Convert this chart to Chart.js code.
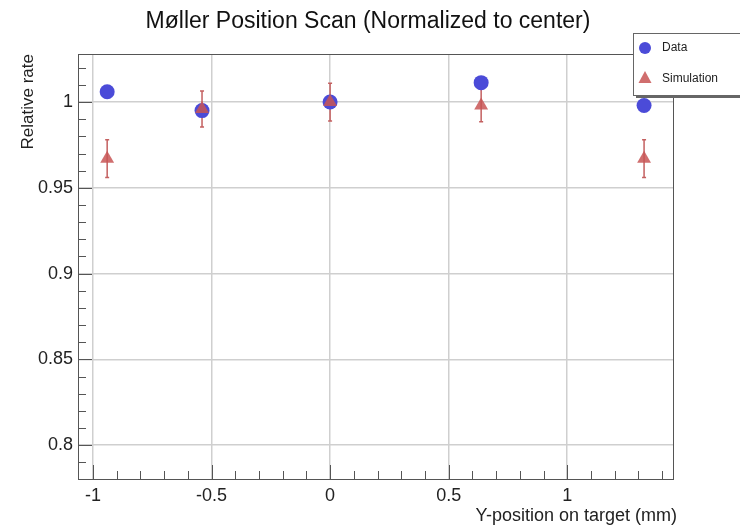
<!DOCTYPE html>
<html>
<head>
<meta charset="utf-8">
<title>Møller Position Scan</title>
<script src="https://cdn.jsdelivr.net/npm/chart.js@4"></script>
<style>
  html, body { margin: 0; padding: 0; background: #fff; }
  canvas { display: block; }
</style>
</head>
<body>
<canvas id="scanChart" width="740" height="525"></canvas>
<script>
// target positions (mm) and rates normalized to the center run
const positions = [-0.94, -0.54, 0.0, 0.637, 1.324];
const dataRate = [1.006, 0.995, 1.0, 1.0113, 0.998];
const simRate = [0.967, 0.996, 1.0, 0.998, 0.967];
const simError = [0.011, 0.0105, 0.011, 0.0095, 0.011];

const xTicks = [-1, -0.5, 0, 0.5, 1];
const yTicks = [0.8, 0.85, 0.9, 0.95, 1];

const FONT = '"Liberation Sans", Arial, Helvetica, sans-serif';
const BLUE = '#4b4bd8';
const RED = 'rgba(200, 85, 85, 0.85)';
const RED_BAR = '#c46060';

function toPoints(ys) {
    return positions.map((x, i) => ({ x: x, y: ys[i] }));
}

// error bars, frame, inward ticks, titles and the legend box
const rootStyle = {
    id: 'rootStyle',
    beforeDatasetsDraw(chart) {
        const ctx = chart.ctx;
        const xs = chart.scales.x;
        const ys = chart.scales.y;
        ctx.save();
        ctx.strokeStyle = RED_BAR;
        ctx.lineWidth = 1.5;
        positions.forEach((x, i) => {
            const px = xs.getPixelForValue(x);
            const top = ys.getPixelForValue(simRate[i] + simError[i]);
            const bot = ys.getPixelForValue(simRate[i] - simError[i]);
            ctx.beginPath();
            ctx.moveTo(px, top);
            ctx.lineTo(px, bot);
            ctx.moveTo(px - 2, top);
            ctx.lineTo(px + 2, top);
            ctx.moveTo(px - 2, bot);
            ctx.lineTo(px + 2, bot);
            ctx.stroke();
        });
        ctx.restore();
    },
    afterDraw(chart) {
        const ctx = chart.ctx;
        const a = chart.chartArea;
        const xs = chart.scales.x;
        const ys = chart.scales.y;
        ctx.save();

        // frame
        ctx.strokeStyle = '#555';
        ctx.lineWidth = 1;
        ctx.strokeRect(Math.round(a.left) + 0.5, Math.round(a.top) + 0.5,
            Math.round(a.right - a.left), Math.round(a.bottom - a.top));

        // ticks pointing into the plot
        ctx.beginPath();
        for (let k = -10; k <= 14; k++) {
            const px = Math.round(xs.getPixelForValue(k / 10)) + 0.5;
            const len = (k % 5 === 0) ? 14 : 8;
            ctx.moveTo(px, a.bottom);
            ctx.lineTo(px, a.bottom - len);
        }
        for (let k = 79; k <= 102; k++) {
            const py = Math.round(ys.getPixelForValue(k / 100)) + 0.5;
            const len = (k % 5 === 0) ? 14 : 8;
            ctx.moveTo(a.left, py);
            ctx.lineTo(a.left + len, py);
        }
        ctx.stroke();

        // titles
        ctx.fillStyle = '#111';
        ctx.font = '23px ' + FONT;
        ctx.textAlign = 'center';
        ctx.textBaseline = 'alphabetic';
        ctx.fillText('Møller Position Scan (Normalized to center)', 368, 28);

        ctx.fillStyle = '#222';
        ctx.font = '18px ' + FONT;
        ctx.textAlign = 'right';
        ctx.fillText('Y-position on target (mm)', 677, 521);

        ctx.save();
        ctx.translate(33, 54);
        ctx.rotate(-Math.PI / 2);
        ctx.font = '17px ' + FONT;
        ctx.textAlign = 'right';
        ctx.fillText('Relative rate', 0, 0);
        ctx.restore();

        // legend box with shadow
        ctx.fillStyle = '#666';
        ctx.fillRect(636, 95, 110, 3);
        ctx.fillStyle = '#fff';
        ctx.fillRect(633, 33, 110, 63);
        ctx.strokeStyle = '#666';
        ctx.lineWidth = 1;
        ctx.strokeRect(633.5, 33.5, 110, 62);

        ctx.fillStyle = BLUE;
        ctx.beginPath();
        ctx.arc(645, 48, 6, 0, Math.PI * 2);
        ctx.fill();

        ctx.fillStyle = RED;
        ctx.beginPath();
        ctx.moveTo(645, 71);
        ctx.lineTo(651.5, 83);
        ctx.lineTo(638.5, 83);
        ctx.closePath();
        ctx.fill();

        ctx.fillStyle = '#222';
        ctx.font = '12px ' + FONT;
        ctx.textAlign = 'left';
        ctx.textBaseline = 'middle';
        ctx.fillText('Data', 662, 48);
        ctx.fillText('Simulation', 662, 79);

        ctx.restore();
    }
};

new Chart(document.getElementById('scanChart'), {
    type: 'scatter',
    data: {
        datasets: [
            {
                label: 'Data',
                data: toPoints(dataRate),
                pointStyle: 'circle',
                pointRadius: 7.5,
                pointHoverRadius: 7.5,
                backgroundColor: BLUE,
                borderColor: BLUE,
                borderWidth: 0,
                order: 2
            },
            {
                label: 'Simulation',
                data: toPoints(simRate),
                pointStyle: 'triangle',
                pointRadius: 8,
                pointHoverRadius: 8,
                backgroundColor: RED,
                borderColor: RED,
                borderWidth: 0,
                order: 1
            }
        ]
    },
    options: {
        responsive: false,
        animation: false,
        devicePixelRatio: 1,
        layout: { padding: { top: 54, right: 67, left: 0, bottom: 0 } },
        plugins: {
            legend: { display: false },
            title: { display: false },
            tooltip: { enabled: false }
        },
        scales: {
            x: {
                type: 'linear',
                min: -1.063,
                max: 1.446,
                afterFit: s => { s.height = 46; },
                afterBuildTicks: s => { s.ticks = xTicks.map(v => ({ value: v })); },
                border: { display: false },
                grid: { color: '#cfcfcf', lineWidth: 1.5, drawTicks: false },
                ticks: {
                    padding: 6,
                    color: '#222',
                    font: { family: FONT, size: 18 },
                    maxRotation: 0,
                    callback: v => String(v)
                }
            },
            y: {
                type: 'linear',
                min: 0.7803,
                max: 1.028,
                afterFit: s => { s.width = 78; },
                afterBuildTicks: s => { s.ticks = yTicks.map(v => ({ value: v })); },
                border: { display: false },
                grid: { color: '#cfcfcf', lineWidth: 1.5, drawTicks: false },
                ticks: {
                    padding: 5,
                    color: '#222',
                    font: { family: FONT, size: 18 },
                    callback: v => String(v)
                }
            }
        }
    },
    plugins: [rootStyle]
});
</script>
</body>
</html>
